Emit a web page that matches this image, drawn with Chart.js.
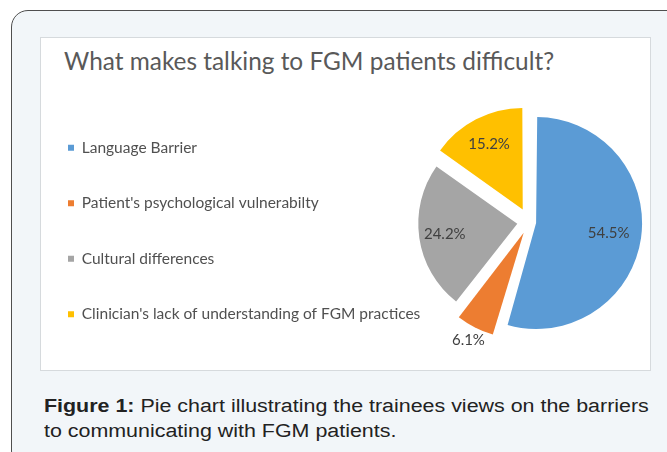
<!DOCTYPE html>
<html>
<head>
<meta charset="utf-8">
<script src="https://cdn.jsdelivr.net/npm/chart.js@4.4.1/dist/chart.umd.min.js"></script>
<style>
  html, body { margin: 0; padding: 0; background: #fff; width: 667px; height: 452px; overflow: hidden; }
  #frame { position: absolute; left: 11px; top: 10px; width: 690px; height: 458px; box-sizing: border-box;
           border: 1.5px solid #4f4f4f; border-radius: 17px; background: #f2f6f9; }
  #panel { position: absolute; left: 40px; top: 37px; width: 611px; height: 334px; box-sizing: border-box;
           background: #fff; border: 1px solid #d6dadd; }
  #title { position: absolute; left: 64px; top: 47px; font: 24.4px Lato, sans-serif; line-height: 28px; color: #595959; white-space: nowrap; }
  #wrap { position: absolute; left: 28px; top: 82px; width: 624px; height: 280px; }
  #caption { position: absolute; left: 44px; top: 394px; white-space: nowrap; font: 18px "Liberation Sans", Arial, sans-serif;
             line-height: 25px; color: #222; transform: scaleX(1.19); transform-origin: 0 0; }
</style>
</head>
<body>
<div id="frame"></div>
<div id="panel"></div>
<div id="title">What makes talking to FGM patients difficult?</div>
<div id="wrap"><canvas id="canvas" width="624" height="280"></canvas></div>
<div id="caption"><b>Figure 1:</b> Pie chart illustrating the trainees views on the barriers<br>to communicating with FGM patients.</div>
<script>
var categories = [
  "Language Barrier",
  "Patient's psychological vulnerabilty",
  "Cultural differences",
  "Clinician's lack of understanding of FGM practices"
];
var shares = [54.5, 6.1, 24.2, 15.2];
var colours = ["#5B9BD5", "#ED7D31", "#A5A5A5", "#FFC000"];
var explode = [28, 48, 48, 56];

// percentage labels, small slices go outside
var sliceLabels = {
  id: 'sliceLabels',
  afterDatasetsDraw: function(chart) {
    var ctx = chart.ctx;
    var meta = chart.getDatasetMeta(0);
    var vals = chart.data.datasets[0].data;
    var total = vals.reduce(function(a, b){ return a + b; }, 0);
    ctx.save();
    ctx.font = '15px Lato';
    ctx.fillStyle = '#404040';
    ctx.textAlign = 'center';
    ctx.textBaseline = 'middle';
    meta.data.forEach(function(arc, i){
      var p = arc.getProps(['x', 'y', 'startAngle', 'endAngle', 'outerRadius']);
      var mid = (p.startAngle + p.endAngle) / 2;
      var shift = (arc.options.offset || 0) / 4;
      var dist = vals[i] / total < 0.1 ? shift + p.outerRadius + 22 : shift + p.outerRadius * 0.74;
      ctx.fillText(vals[i].toFixed(1) + '%', p.x + Math.cos(mid) * dist, p.y + Math.sin(mid) * dist);
    });
    ctx.restore();
  }
};

function draw(){
  new Chart(document.getElementById("canvas"), {
    type: 'pie',
    data: {
      labels: categories,
      datasets: [{
        data: shares,
        backgroundColor: colours,
        borderWidth: 0,
        offset: explode,
        clip: false
      }]
    },
    options: {
      responsive: false,
      animation: false,
      radius: 99,
      layout: { padding: { right: 24 } },
      plugins: {
        tooltip: { enabled: false },
        legend: {
          position: 'left',
          align: 'end',
          maxWidth: 500,
          labels: {
            boxWidth: 6,
            boxHeight: 6,
            padding: 40,
            color: '#505050',
            font: { family: 'Lato', size: 15.5 }
          }
        }
      }
    },
    plugins: [sliceLabels]
  });
}

document.fonts.load('15px Lato').then(draw, draw);
</script>
</body>
</html>
